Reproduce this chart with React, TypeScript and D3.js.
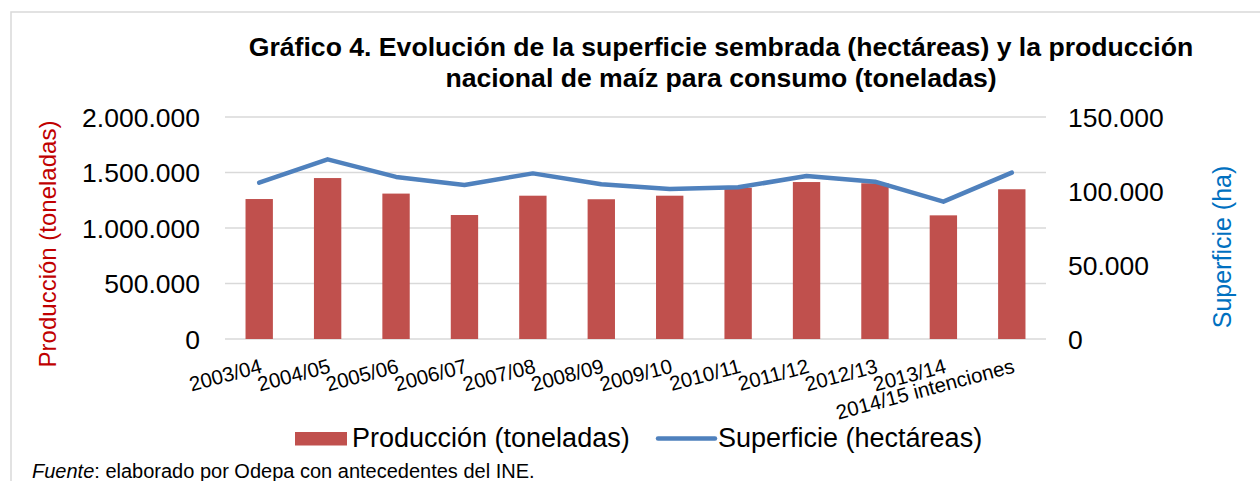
import React, { useEffect, useRef } from 'react';
import * as d3 from 'd3';

// temporadas
const seasons = [
  '2003/04', '2004/05', '2005/06', '2006/07', '2007/08', '2008/09',
  '2009/10', '2010/11', '2011/12', '2012/13', '2013/14', '2014/15 intenciones',
];
// producción (toneladas)
const production = [
  1261000, 1450000, 1310000, 1117000, 1291000, 1259000,
  1291000, 1363000, 1414000, 1403000, 1114000, 1349000,
];
// superficie sembrada (hectáreas)
const surface = [
  105600, 121400, 109500, 104100, 111900, 104500,
  101300, 102500, 110100, 106300, 92800, 112400,
];
const leftTicks = [0, 500000, 1000000, 1500000, 2000000];
const rightTicks = [0, 50000, 100000, 150000];

const titleLines = [
  'Gráfico 4. Evolución de la superficie sembrada (hectáreas) y la producción',
  'nacional de maíz para consumo (toneladas)',
];

export default function App() {
  const ref = useRef<SVGSVGElement>(null);

  /* SIZE */
  const WIDTH = 1260;
  const HEIGHT = 481;
  const PLOT = { left: 225, right: 1046, top: 117, bottom: 339 };
  const TICK_FONT = 26.5;
  /* COLOR */
  const BAR_COLOR = '#C0504D';
  const LINE_COLOR = '#4F81BD';
  const GRID_COLOR = '#D9D9D9';
  const FONT = '"Liberation Sans", Arial, sans-serif';

  function draw() {
    const svg = d3.select(ref.current);
    svg.selectAll('*').remove();

    const es = d3.formatLocale({ decimal: ',', thousands: '.', grouping: [3], currency: ['$', ''] });
    const fmt = es.format(',');

    const x = d3.scaleBand<string>()
      .domain(seasons)
      .range([PLOT.left, PLOT.right])
      .paddingInner(0.6)
      .paddingOuter(0.3);
    const yLeft = d3.scaleLinear().domain([0, 2000000]).range([PLOT.bottom, PLOT.top]);
    const yRight = d3.scaleLinear().domain([0, 150000]).range([PLOT.bottom, PLOT.top]);

    // marco
    svg.append('path')
      .attr('d', `M11,${HEIGHT + 5}V12H${WIDTH + 5}`)
      .attr('fill', 'none')
      .attr('stroke', GRID_COLOR)
      .attr('stroke-width', 1.5);

    // título
    svg.append('g')
      .selectAll('text')
      .data(titleLines)
      .enter()
      .append('text')
      .attr('x', 721)
      .attr('y', (d, i) => 55.5 + i * 31)
      .attr('text-anchor', 'middle')
      .attr('font-family', FONT)
      .attr('font-weight', 'bold')
      .attr('font-size', 26.6)
      .attr('fill', '#000')
      .text(d => d);

    // grilla
    svg.append('g')
      .selectAll('line')
      .data(leftTicks)
      .enter()
      .append('line')
      .attr('x1', PLOT.left)
      .attr('x2', PLOT.right)
      .attr('y1', d => yLeft(d))
      .attr('y2', d => yLeft(d))
      .attr('stroke', GRID_COLOR)
      .attr('stroke-width', 1.5);

    // eje izquierdo
    svg.append('g')
      .selectAll('text')
      .data(leftTicks)
      .enter()
      .append('text')
      .attr('x', 200)
      .attr('y', d => yLeft(d))
      .attr('dy', '0.36em')
      .attr('text-anchor', 'end')
      .attr('font-family', FONT)
      .attr('font-size', TICK_FONT)
      .text(d => fmt(d));

    // eje derecho
    svg.append('g')
      .selectAll('text')
      .data(rightTicks)
      .enter()
      .append('text')
      .attr('x', 1068)
      .attr('y', d => yRight(d))
      .attr('dy', '0.36em')
      .attr('font-family', FONT)
      .attr('font-size', TICK_FONT)
      .text(d => fmt(d));

    // títulos de ejes
    svg.append('text')
      .attr('transform', 'translate(56,244) rotate(-90)')
      .attr('text-anchor', 'middle')
      .attr('font-family', FONT)
      .attr('font-size', 24)
      .attr('fill', '#C00000')
      .text('Producción (toneladas)');
    svg.append('text')
      .attr('transform', 'translate(1231,247) rotate(-90)')
      .attr('text-anchor', 'middle')
      .attr('font-family', FONT)
      .attr('font-size', 25)
      .attr('fill', '#0070C0')
      .text('Superficie (ha)');

    // barras
    svg.append('g')
      .selectAll('rect')
      .data(seasons)
      .enter()
      .append('rect')
      .attr('x', d => x(d)!)
      .attr('width', x.bandwidth())
      .attr('y', (d, i) => yLeft(production[i]))
      .attr('height', (d, i) => yLeft(0) - yLeft(production[i]))
      .attr('fill', BAR_COLOR);

    // línea
    const line = d3.line<number>()
      .x((d, i) => x(seasons[i])! + x.bandwidth() / 2)
      .y(d => yRight(d));
    svg.append('path')
      .attr('d', line(surface))
      .attr('fill', 'none')
      .attr('stroke', LINE_COLOR)
      .attr('stroke-width', 4.5)
      .attr('stroke-linejoin', 'round')
      .attr('stroke-linecap', 'round');

    // etiquetas eje x
    svg.append('g')
      .selectAll('text')
      .data(seasons)
      .enter()
      .append('text')
      .attr('transform', d => `translate(${x(d)! + x.bandwidth() / 2},358) rotate(-15)`)
      .attr('dy', '0.72em')
      .attr('text-anchor', 'end')
      .attr('font-family', FONT)
      .attr('font-size', 20.5)
      .text(d => d);

    // leyenda
    const legend = svg.append('g').attr('font-family', FONT).attr('font-size', 27);
    legend.append('rect')
      .attr('x', 295).attr('y', 432).attr('width', 52).attr('height', 13.5)
      .attr('fill', BAR_COLOR);
    legend.append('text').attr('x', 352).attr('y', 446.5).text('Producción (toneladas)');
    legend.append('line')
      .attr('x1', 658).attr('x2', 715).attr('y1', 438.5).attr('y2', 438.5)
      .attr('stroke', LINE_COLOR).attr('stroke-width', 4.5).attr('stroke-linecap', 'round');
    legend.append('text').attr('x', 718).attr('y', 446.5).text('Superficie (hectáreas)');

    // fuente
    const source = svg.append('text')
      .attr('x', 32)
      .attr('y', 478)
      .attr('font-family', FONT)
      .attr('font-size', 20);
    source.append('tspan').attr('font-style', 'italic').text('Fuente');
    source.append('tspan').text(': elaborado por Odepa con antecedentes del INE.');
  }

  useEffect(() => {
    draw();
  }, []);

  return (
    <svg
      ref={ref}
      width={WIDTH}
      height={HEIGHT}
      style={{ position: 'absolute', left: 0, top: 0, background: '#fff', display: 'block' }}
    />
  );
}
